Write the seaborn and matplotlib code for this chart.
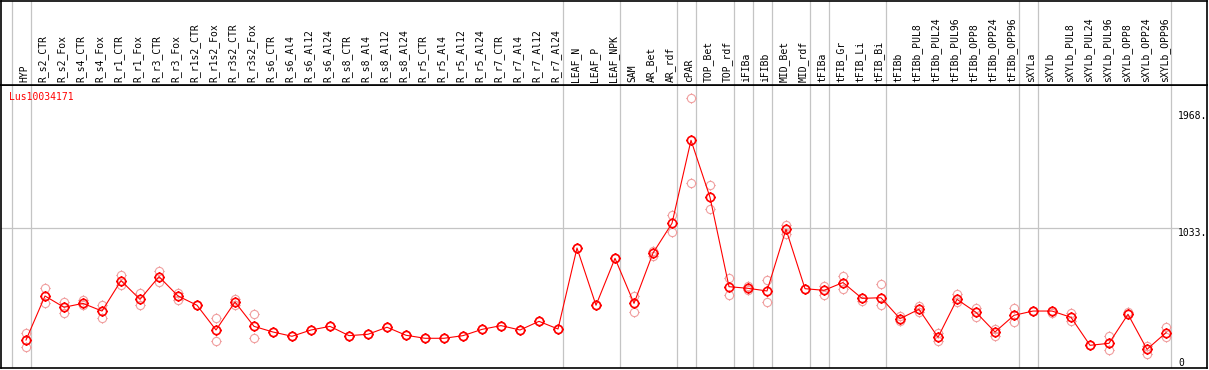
import numpy as np
import pandas as pd
import matplotlib
matplotlib.use("Agg")
import matplotlib.pyplot as plt
from matplotlib.path import Path
import seaborn as sns

title = "Lus10034171"

samples = ["HYP", "R_s2_CTR", "R_s2_Fox", "R_s4_CTR", "R_s4_Fox", "R_r1_CTR", "R_r1_Fox",
           "R_r3_CTR", "R_r3_Fox", "R_r1s2_CTR", "R_r1s2_Fox", "R_r3s2_CTR", "R_r3s2_Fox",
           "R_s6_CTR", "R_s6_Al4", "R_s6_Al12", "R_s6_Al24", "R_s8_CTR", "R_s8_Al4",
           "R_s8_Al12", "R_s8_Al24", "R_r5_CTR", "R_r5_Al4", "R_r5_Al12", "R_r5_Al24",
           "R_r7_CTR", "R_r7_Al4", "R_r7_Al12", "R_r7_Al24", "LEAF_N", "LEAF_P", "LEAF_NPK",
           "SAM", "AR_Bet", "AR_rdf", "cPAR", "TOP_Bet", "TOP_rdf", "iFIBa", "iFIBb",
           "MID_Bet", "MID_rdf", "tFIBa", "tFIB_Gr", "tFIB_Li", "tFIB_Bi", "tFIBb",
           "tFIBb_PUL8", "tFIBb_PUL24", "tFIBb_PUL96", "tFIBb_OPP8", "tFIBb_OPP24",
           "tFIBb_OPP96", "sXYLa", "sXYLb", "sXYLb_PUL8", "sXYLb_PUL24", "sXYLb_PUL96",
           "sXYLb_OPP8", "sXYLb_OPP24", "sXYLb_OPP96"]

means = [143, 494, 404, 435, 374, 616, 467, 648, 494, 420, 223, 446, 252,
         207, 173, 223, 252, 178, 189, 245, 181, 157, 157, 178, 228,
         258, 223, 292, 231, 876, 420, 794,
         435, 836, 1073, 1734, 1280, 568, 555, 534,
         1025, 552, 539, 601, 475, 480, 313,
         388, 165, 467, 364, 207, 340,
         374, 374, 324, 101, 117, 348, 69, 202]

rep_a = [201, 555, 448, 462, 422, 661, 515, 693, 520, 420, 316, 467, 350,
         207, 173, 223, 252, 178, 189, 245, 181, 157, 157, 178, 228,
         258, 223, 292, 231, 876, 420, 794,
         494, 855, 1136, 2068, 1375, 637, 576, 619,
         1057, 552, 576, 653, 480, 587, 337,
         417, 202, 507, 401, 228, 398,
         374, 374, 361, 101, 175, 369, 96, 249]

rep_b = [85, 435, 356, 422, 319, 581, 420, 603, 462, 420, 133, 422, 157,
         207, 173, 223, 252, 178, 189, 245, 181, 157, 157, 178, 228,
         258, 223, 292, 231, 876, 420, 794,
         364, 815, 1006, 1391, 1184, 499, 542, 444,
         985, 552, 502, 553, 456, 422, 292,
         369, 138, 448, 324, 175, 284,
         374, 356, 295, 101, 64, 348, 32, 170]

# index of last sample in each group (group separators)
group_ends = [-1, 0, 28, 31, 34, 35, 37, 38, 39, 41, 42, 45, 52, 53, 60]
ytick_values = [1968, 1033, 0]
ytick_labels = ["1968.", "1033.", "0"]

df = pd.DataFrame({"x": np.arange(len(samples)), "mean": means, "a": rep_a, "b": rep_b})

plt.rcParams['font.family'] = 'DejaVu Sans Mono'
W, H = 1209, 370
fig = plt.figure(figsize=(W / 100, H / 100), dpi=100)

ax = fig.add_axes([1 / W, 1 - 368 / H, 1206 / W, (368 - 85) / H])
axh = fig.add_axes([1 / W, 1 - 85 / H, 1206 / W, (85 - 1) / H], sharex=ax)

# custom marker: circle with four small ticks
circ = Path.unit_circle()
tick_verts = []
tick_codes = []
for dx, dy in [(1, 0), (-1, 0), (0, 1), (0, -1)]:
    tick_verts += [(dx * 1.0, dy * 1.0), (dx * 1.25, dy * 1.25)]
    tick_codes += [Path.MOVETO, Path.LINETO]
ticks = Path(tick_verts, tick_codes)
marker_path = Path.make_compound_path(circ, ticks)

grid_c = "#c4c4c4"
pale = "#f0a0a0"
red = "#ff0000"

for ge in group_ends:
    for a_ in (ax, axh):
        a_.axvline(ge + 0.26, color=grid_c, lw=0.9, zorder=0)

ax.axhline(1033, xmin=0, xmax=(1178 - 1) / 1206, color=grid_c, lw=0.9, zorder=0)

for col in ["a", "b"]:
    sns.lineplot(data=df, x="x", y=col, ax=ax, estimator=None, linestyle="none",
                 marker=marker_path, markersize=7.4, markerfacecolor="none",
                 markeredgecolor=pale, markeredgewidth=0.8, zorder=2)

sns.lineplot(data=df, x="x", y="mean", ax=ax, estimator=None, color=red, lw=0.8,
             marker=marker_path, markersize=7.4, markerfacecolor="none",
             markeredgecolor=red, markeredgewidth=1.2, zorder=3)

ax.set_xlim((1 - 26) / 19, (1207 - 26) / 19)
ax.set_ylim((358 - 368) / 0.12556, (358 - 85) / 0.12556)
ax.set_xlabel("")
ax.set_ylabel("")
ax.set_xticks([])
ax.set_yticks([])
axh.set_ylim(0, 1)
axh.set_yticks([])
axh.tick_params(axis="x", bottom=False, labelbottom=False)

for a_ in (ax, axh):
    for s in a_.spines.values():
        s.set_color("black")
        s.set_linewidth(1.2)

xlab = (1178 - 26) / 19
for v, lab in zip(ytick_values, ytick_labels):
    ax.text(xlab, v, lab, fontsize=7, va="top", ha="left", color="black", zorder=4)

for i, name in enumerate(samples):
    axh.text(i - 0.1, 0.03, name, rotation=90, fontsize=7, ha="center", va="bottom",
             color="black")

fig.text(9 / W, 1 - 92 / H, title, fontsize=7, color=red, ha="left", va="top")

fig.savefig("out.png", dpi=100)
